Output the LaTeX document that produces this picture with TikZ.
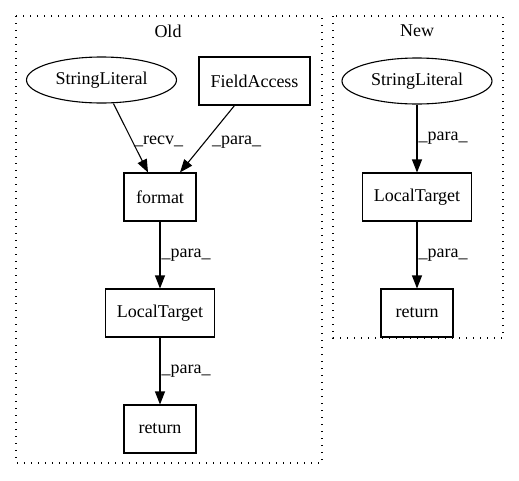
\documentclass[tikz,border=0pt]{standalone}
\usepackage{fontspec}
\setmainfont{Liberation Serif}
\usetikzlibrary{shapes.geometric,arrows.meta}

\begin{document}
\begin{tikzpicture}[auto, x=1pt, y=1pt, line width=1.1pt,
        font=\fontsize{18}{21}\selectfont,
        >={Triangle[length=13pt,width=10pt]},
        cluster/.style={draw, dash pattern=on 1.3pt off 5.7pt},
        box/.style={rectangle, draw, minimum height=48pt, inner xsep=11.5pt},
        oval/.style={ellipse, draw, minimum width=150pt, minimum height=46pt, inner sep=0pt}]
    \useasboundingbox (0,0) rectangle (519,-480);
    \draw[cluster] (16,-16) rectangle (322,-463);
    \draw[cluster] (333,-16) rectangle (503,-338);
    \node (old) at (168,-31) {Old};
    \node (new) at (417,-31) {New};
    \begin{scope}
        \node (sl1) [oval] at (101.5,-80) {StringLiteral};
        \node (fa) [box] at (254.5,-81) {FieldAccess};
        \node (fmt) [box, minimum width=72pt] at (160,-197) {format};
        \node (lt1) [box] at (160,-313) {LocalTarget};
        \node (ret1) [box, minimum width=72pt] at (160,-429) {return};
        \node (sl2) [oval] at (417,-81) {StringLiteral};
        \node (lt2) [box] at (417,-197) {LocalTarget};
        \node (ret2) [box, minimum width=72pt] at (417,-313) {return};
    \end{scope}
    \begin{scope}[every edge/.style={draw, ->}, every node/.style={inner sep=1pt}]
        \draw ([xshift=12pt]sl1.south) edge node[right, pos=0.55]{\_recv\_} ([xshift=-12pt]fmt.north);
        \draw ([xshift=-20pt]fa.south) edge node[right, pos=0.55, xshift=6pt]{\_para\_} ([xshift=20pt]fmt.north);
        \draw (fmt) edge node{\_para\_} (lt1);
        \draw (lt1) edge node{\_para\_} (ret1);
        \draw (sl2) edge node{\_para\_} (lt2);
        \draw (lt2) edge node{\_para\_} (ret2);
    \end{scope}
\end{tikzpicture}
\end{document}
